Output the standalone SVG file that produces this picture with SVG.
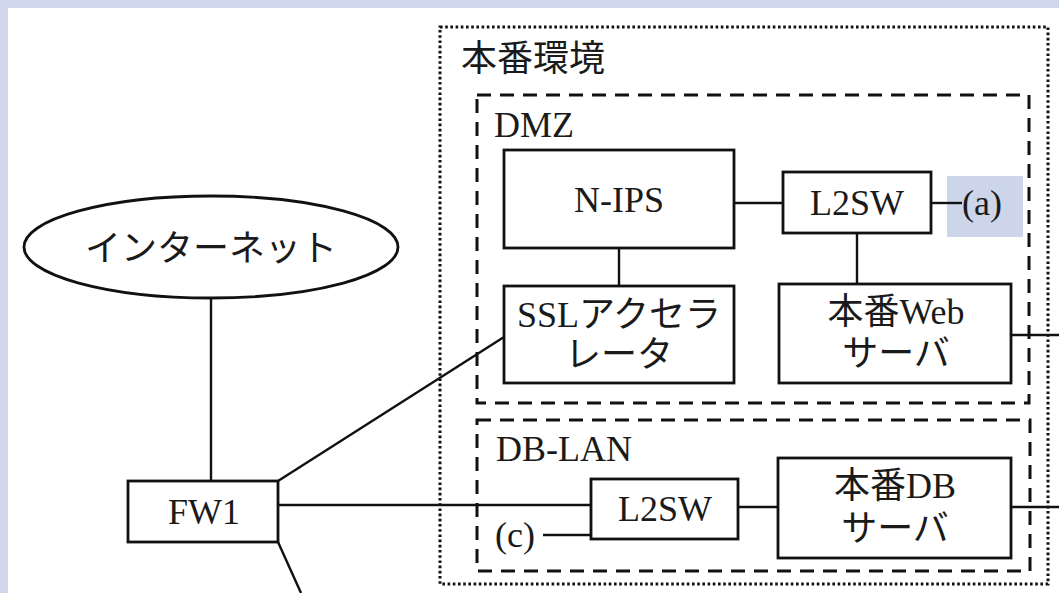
<svg xmlns="http://www.w3.org/2000/svg" width="1059" height="593" viewBox="0 0 1059 593">
<defs>
<style>
.box{fill:#fff;stroke:#111;stroke-width:2.8}
.ln{fill:none;stroke:#111;stroke-width:2.4}
.dot{fill:none;stroke:#111;stroke-width:3;stroke-dasharray:2.6 2.6}
.dash{fill:none;stroke:#111;stroke-width:3;stroke-dasharray:14 9}
text{font-family:"Liberation Serif","Noto Sans CJK JP",serif;font-size:36px;fill:#1a1a1a}
.c{text-anchor:middle}
</style>
</defs>
<rect x="0" y="0" width="1059" height="593" fill="#d0d6eb"/>
<rect x="8" y="8" width="1051" height="585" fill="#fff"/>
<g id="env-prod">
<rect class="dot" x="440" y="27" width="608" height="557"/>
<text x="461" y="71">本番環境</text>
</g>
<g id="zone-dmz">
<rect class="dash" x="477" y="95" width="552" height="308"/>
<text x="494" y="137">DMZ</text>
</g>
<g id="zone-dblan">
<rect class="dash" x="477" y="420" width="553" height="151"/>
<text x="496" y="461">DB-LAN</text>
</g>
<g id="connectors">
<line class="ln" x1="211" y1="298" x2="211" y2="481"/>
<line class="ln" x1="278" y1="481" x2="504" y2="337"/>
<line class="ln" x1="278" y1="505" x2="591" y2="505"/>
<line class="ln" x1="278" y1="542" x2="301" y2="593"/>
<line class="ln" x1="619" y1="248" x2="619" y2="286"/>
<line class="ln" x1="734" y1="203" x2="783" y2="203"/>
<line class="ln" x1="857" y1="233" x2="857" y2="284"/>
<line class="ln" x1="1011" y1="335" x2="1059" y2="335"/>
<line class="ln" x1="543" y1="535" x2="591" y2="535"/>
<line class="ln" x1="738" y1="507" x2="778" y2="507"/>
<line class="ln" x1="1011" y1="507" x2="1059" y2="507"/>
</g>
<g id="internet">
<ellipse cx="211" cy="247" rx="187" ry="51" fill="#fff" stroke="#111" stroke-width="2.8"/>
<text class="c" x="211" y="261">インターネット</text>
</g>
<g id="fw1">
<rect class="box" x="128" y="481" width="150" height="61"/>
<text class="c" x="204" y="524">FW1</text>
</g>
<g id="n-ips">
<rect class="box" x="504" y="150" width="230" height="98"/>
<text class="c" x="619" y="212">N-IPS</text>
</g>
<g id="l2sw-dmz">
<rect class="box" x="783" y="172" width="148" height="61"/>
<text class="c" x="857" y="215">L2SW</text>
</g>
<g id="label-a">
<rect x="947" y="176" width="76" height="61" fill="#cdd5ea"/>
<line class="ln" x1="931" y1="203" x2="962" y2="203"/>
<text x="962" y="215">(a)</text>
</g>
<g id="ssl">
<rect class="box" x="504" y="286" width="230" height="97"/>
<text class="c" x="619" y="327">SSLアクセラ</text>
<text class="c" x="619" y="367">レータ</text>
</g>
<g id="web">
<rect class="box" x="779" y="284" width="232" height="99"/>
<text class="c" x="896" y="324">本番Web</text>
<text class="c" x="896" y="366">サーバ</text>
</g>
<g id="l2sw-db">
<rect class="box" x="591" y="479" width="147" height="60"/>
<text class="c" x="665" y="521">L2SW</text>
</g>
<g id="label-c">
<text x="495" y="547">(c)</text>
</g>
<g id="db">
<rect class="box" x="778" y="458" width="233" height="100"/>
<text class="c" x="895" y="498">本番DB</text>
<text class="c" x="895" y="541">サーバ</text>
</g>
</svg>
